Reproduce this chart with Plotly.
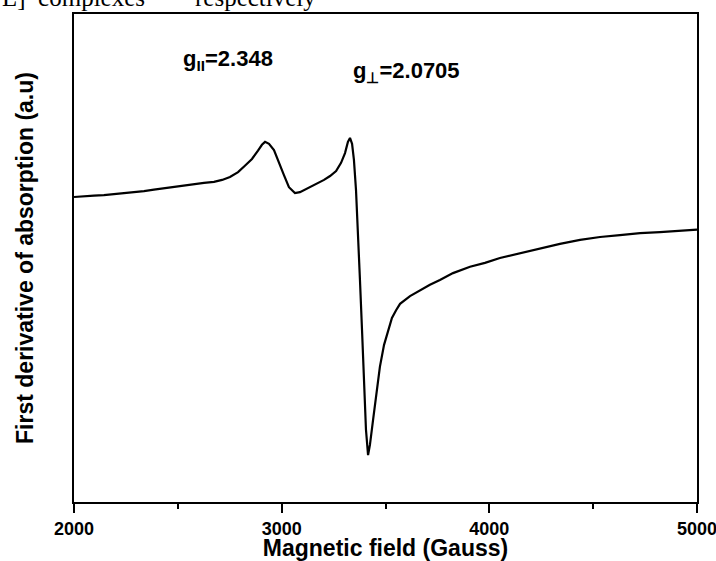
import plotly.graph_objects as go

# Magnetic field (Gauss)
field = [2000, 2048, 2096, 2144, 2193, 2241, 2289, 2337, 2385, 2433, 2481, 2530,
         2578, 2626, 2674, 2713, 2751, 2790, 2823, 2857, 2886, 2905, 2920, 2939,
         2963, 2987, 3011, 3035, 3064, 3088, 3117, 3146, 3175, 3204, 3233, 3262,
         3286, 3305, 3319, 3329, 3339, 3348, 3358, 3368, 3377, 3387, 3396, 3406,
         3416, 3425, 3440, 3454, 3473, 3493, 3512, 3531, 3551, 3570, 3618, 3666,
         3714, 3762, 3825, 3907, 3979, 4051, 4148, 4244, 4340, 4437, 4533, 4629,
         4726, 4822, 4918, 5000]
# First derivative of absorption (arbitrary units)
signal = [62.5, 62.7, 62.8, 62.9, 63.1, 63.2, 63.5, 63.7, 64.0, 64.3, 64.5, 64.9,
          65.2, 65.4, 65.6, 66.0, 66.6, 67.6, 68.9, 70.3, 72.0, 73.2, 73.8, 73.4,
          72.1, 69.7, 67.0, 64.5, 63.3, 63.5, 64.1, 64.8, 65.4, 66.0, 66.8, 67.8,
          69.5, 71.5, 73.8, 74.6, 73.4, 70.1, 63.9, 55.7, 45.5, 35.2, 24.0, 14.8,
          9.6, 11.7, 16.8, 21.9, 27.7, 32.2, 35.2, 37.7, 39.3, 40.6, 42.2, 43.4,
          44.5, 45.5, 46.9, 48.2, 49.0, 50.0, 51.0, 52.0, 52.9, 53.7, 54.3, 54.7,
          55.1, 55.3, 55.5, 55.8]

x_ticks = [2000, 3000, 4000, 5000]
x_tick_labels = ["2000", "3000", "4000", "5000"]

FONT = "Liberation Sans, Arial, sans-serif"

fig = go.Figure()
fig.add_trace(go.Scatter(x=field, y=signal, mode="lines",
                         line=dict(color="black", width=2.2),
                         showlegend=False, hoverinfo="x+y"))

fig.update_layout(
    width=716, height=561,
    margin=dict(l=74, r=19, t=14, b=59),
    paper_bgcolor="white", plot_bgcolor="white",
    font=dict(family=FONT, color="black"),
    xaxis=dict(
        range=[2000, 5000], tickvals=x_ticks, ticktext=x_tick_labels,
        ticks="outside", ticklen=9, tickwidth=2, tickcolor="black",
        ticklabeloverflow="allow",
        minor=dict(dtick=500, tick0=2000, ticks="outside", ticklen=5,
                   tickwidth=2, tickcolor="black"),
        showline=True, linecolor="black", linewidth=2, mirror=True,
        showgrid=False, zeroline=False, automargin=False,
        tickfont=dict(family=FONT, size=18, weight="bold"),
        title=dict(text="Magnetic field (Gauss)", standoff=3,
                   font=dict(family=FONT, size=23, weight="bold")),
    ),
    yaxis=dict(
        range=[0, 100], showticklabels=False, ticks="",
        showline=True, linecolor="black", linewidth=2, mirror=True,
        showgrid=False, zeroline=False, automargin=False,
        title=dict(text="First derivative of absorption (a.u)", standoff=32,
                   font=dict(family=FONT, size=23, weight="bold")),
    ),
    annotations=[
        dict(x=2741, y=90.5, xref="x", yref="y",
             text="g<sub>II</sub>=2.348", showarrow=False,
             font=dict(family=FONT, size=22, weight="bold")),
        dict(x=3603, y=88.2, xref="x", yref="y",
             text="g<sub>\u22a5</sub>=2.0705", showarrow=False,
             font=dict(family=FONT, size=22, weight="bold")),
        dict(x=-0.1188, y=1.0328, xref="paper", yref="paper",
             xanchor="left", yanchor="middle",
             text="L]\u00a0\u00a0complexes\u00a0\u00a0\u00a0\u00a0\u00a0\u00a0\u00a0\u00a0respectively",
             showarrow=False,
             font=dict(family="Liberation Serif, Times New Roman, serif", size=25)),
    ],
)

fig.write_html("out.html",
               config={"displayModeBar": False},
               post_script="document.body.style.margin='0';document.body.style.overflow='hidden';")
